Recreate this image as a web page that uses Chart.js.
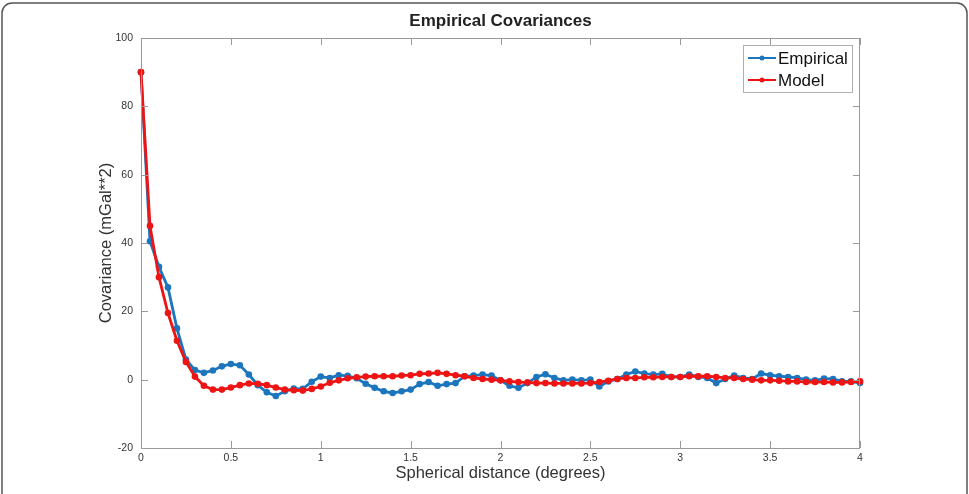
<!DOCTYPE html>
<html>
<head>
<meta charset="utf-8">
<script src="https://cdn.jsdelivr.net/npm/chart.js@4/dist/chart.umd.min.js"></script>
<style>
  html, body { margin: 0; padding: 0; background: #fff; }
  #wrap { width: 969px; height: 494px; }
</style>
</head>
<body>
<div id="wrap"><canvas id="covChart" width="969" height="494"></canvas></div>
<script>
// spherical distance (degrees)
var distance = [0, 0.05, 0.1, 0.15, 0.2, 0.25, 0.3, 0.35, 0.4, 0.45, 0.5, 0.55, 0.6, 0.65, 0.7, 0.75, 0.8, 0.85, 0.9, 0.95,
  1, 1.05, 1.1, 1.15, 1.2, 1.25, 1.3, 1.35, 1.4, 1.45, 1.5, 1.55, 1.6, 1.65, 1.7, 1.75, 1.8, 1.85, 1.9, 1.95,
  2, 2.05, 2.1, 2.15, 2.2, 2.25, 2.3, 2.35, 2.4, 2.45, 2.5, 2.55, 2.6, 2.65, 2.7, 2.75, 2.8, 2.85, 2.9, 2.95,
  3, 3.05, 3.1, 3.15, 3.2, 3.25, 3.3, 3.35, 3.4, 3.45, 3.5, 3.55, 3.6, 3.65, 3.7, 3.75, 3.8, 3.85, 3.9, 3.95, 4];

var empirical = [90, 40.5, 33, 27, 15, 5.9, 2.8, 2, 2.7, 3.9, 4.6, 4.2, 1.5, -1.6, -3.7, -4.8, -3.4, -2.6, -2.7, -0.6,
  0.9, 0.5, 1.3, 1.1, 0.4, -1.2, -2.4, -3.4, -3.9, -3.4, -2.9, -1.3, -0.7, -1.8, -1.3, -1, 1, 1.2, 1.5, 1.2,
  -0.2, -1.8, -2.4, -1, 0.8, 1.6, 0.5, -0.2, 0, -0.2, 0, -2, -0.5, 0.2, 1.5, 2.4, 1.8, 1.5, 1.7, 0.8,
  0.8, 1.5, 0.8, 0.5, -1, 0.2, 1.2, 0.5, 0.2, 1.8, 1.3, 1, 0.8, 0.5, 0, -0.2, 0.3, 0.2, -0.5, -0.5, -1];

var model = [90, 45, 30, 19.5, 11.4, 5.2, 0.9, -1.8, -2.9, -2.9, -2.3, -1.6, -1.1, -1.2, -1.6, -2.3, -2.9, -3.1, -3.2, -2.7,
  -2, -0.9, -0.2, 0.4, 0.7, 0.9, 1, 1, 1, 1.2, 1.3, 1.7, 1.8, 2, 1.7, 1.3, 1, 0.5, 0.2, 0,
  -0.2, -0.5, -0.7, -0.8, -1, -1, -1.1, -1.1, -1.1, -1.1, -1, -0.7, -0.3, 0.2, 0.5, 0.5, 0.7, 0.7, 0.8, 0.8,
  0.8, 1, 1, 1, 0.8, 0.5, 0.5, 0.2, 0, -0.2, -0.2, -0.3, -0.5, -0.5, -0.7, -0.7, -0.7, -0.8, -0.8, -0.7, -0.5];

var xTicks = [0, 0.5, 1, 1.5, 2, 2.5, 3, 3.5, 4];
var yTicks = [-20, 0, 20, 40, 60, 80, 100];

var blue = 'rgb(28,118,190)';
var red = 'rgb(238,20,20)';
var axisColor = '#9a9a9a';
var textColor = '#333';
var baseFont = '"Liberation Sans", Arial, sans-serif';

function toPoints(ys) {
  return ys.map(function (v, i) { return { x: distance[i], y: v }; });
}

// inward ticks on all four sides + top/right border, MATLAB style
var boxPlugin = {
  id: 'box',
  afterDraw: function (chart) {
    var ctx = chart.ctx, a = chart.chartArea;
    var xs = chart.scales.x, ys = chart.scales.y;
    ctx.save();
    ctx.strokeStyle = axisColor;
    ctx.lineWidth = 1;
    ctx.strokeRect(a.left + 0.5, a.top + 0.5, a.right - a.left - 1, a.bottom - a.top);
    ctx.beginPath();
    xTicks.forEach(function (t) {
      var px = Math.round(xs.getPixelForValue(t)) + 0.5;
      ctx.moveTo(px, a.bottom); ctx.lineTo(px, a.bottom - 7);
      ctx.moveTo(px, a.top); ctx.lineTo(px, a.top + 7);
    });
    yTicks.forEach(function (t) {
      var py = Math.round(ys.getPixelForValue(t)) + 0.5;
      ctx.moveTo(a.left, py); ctx.lineTo(a.left + 7, py);
      ctx.moveTo(a.right, py); ctx.lineTo(a.right - 7, py);
    });
    ctx.stroke();

    // title and axis labels
    ctx.fillStyle = '#222';
    ctx.textAlign = 'center';
    ctx.textBaseline = 'middle';
    ctx.font = 'bold 17px ' + baseFont;
    ctx.fillText('Empirical Covariances', (a.left + a.right) / 2, 21);
    ctx.fillStyle = textColor;
    ctx.font = '16.5px ' + baseFont;
    ctx.fillText('Spherical distance (degrees)', (a.left + a.right) / 2, 473);
    ctx.save();
    ctx.translate(106, (a.top + a.bottom) / 2);
    ctx.rotate(-Math.PI / 2);
    ctx.fillText('Covariance (mGal**2)', 0, 0);
    ctx.restore();

    // legend box
    var lx = 743, ly = 45, lw = 109, lh = 47;
    ctx.fillStyle = '#fff';
    ctx.fillRect(lx, ly, lw, lh);
    ctx.strokeStyle = '#b0b0b0';
    ctx.strokeRect(lx + 0.5, ly + 0.5, lw, lh);
    var items = [[chart.data.datasets[1].label, blue, 58], [chart.data.datasets[0].label, red, 80]];
    items.forEach(function (it) {
      ctx.strokeStyle = it[1];
      ctx.fillStyle = it[1];
      ctx.lineWidth = 2;
      ctx.beginPath();
      ctx.moveTo(748, it[2]); ctx.lineTo(776, it[2]);
      ctx.stroke();
      ctx.beginPath();
      ctx.arc(762, it[2], 2.5, 0, Math.PI * 2);
      ctx.fill();
      ctx.fillStyle = '#111';
      ctx.textAlign = 'left';
      ctx.font = '17px ' + baseFont;
      ctx.fillText(it[0], 778, it[2] + 1);
    });

    // outer figure frame
    ctx.strokeStyle = '#555';
    ctx.lineWidth = 1.5;
    ctx.beginPath();
    ctx.roundRect(2, 3, 965, 520, 10);
    ctx.stroke();
    ctx.restore();
  }
};

function plainLabel(v) { return String(v); }

var ctx = document.getElementById('covChart').getContext('2d');
new Chart(ctx, {
  type: 'line',
  data: {
    datasets: [
      {
        label: 'Model',
        data: toPoints(model),
        borderColor: red,
        backgroundColor: red,
        borderWidth: 2.8,
        pointRadius: 3.3,
        pointBorderWidth: 0,
        tension: 0,
        clip: false,
        order: 0
      },
      {
        label: 'Empirical',
        data: toPoints(empirical),
        borderColor: blue,
        backgroundColor: blue,
        borderWidth: 2.8,
        pointRadius: 3.3,
        pointBorderWidth: 0,
        tension: 0,
        clip: false,
        order: 1
      }
    ]
  },
  options: {
    responsive: false,
    animation: false,
    layout: { padding: { left: 0, top: 38, right: 109, bottom: 24 } },
    plugins: { legend: { display: false }, tooltip: { enabled: false } },
    scales: {
      x: {
        type: 'linear',
        min: 0, max: 4,
        afterFit: function (s) { s.height = 22; },
        afterBuildTicks: function (s) { s.ticks = xTicks.map(function (v) { return { value: v }; }); },
        grid: { display: false, drawTicks: false, tickLength: 0 },
        border: { display: false },
        ticks: { color: textColor, padding: 4, maxRotation: 0, callback: plainLabel, font: { family: baseFont, size: 10.5 } }
      },
      y: {
        min: -20, max: 100,
        afterFit: function (s) { s.width = 141; },
        afterBuildTicks: function (s) { s.ticks = yTicks.map(function (v) { return { value: v }; }); },
        grid: { display: false, drawTicks: false, tickLength: 0 },
        border: { display: false },
        ticks: { color: textColor, padding: 8, callback: plainLabel, font: { family: baseFont, size: 10.5 } }
      }
    }
  },
  plugins: [boxPlugin]
});
</script>
</body>
</html>
